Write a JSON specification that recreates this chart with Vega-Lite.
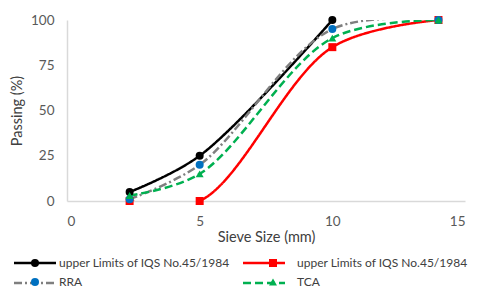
{
  "$schema": "https://vega.github.io/schema/vega-lite/v6.json",
  "width": 398,
  "height": 181,
  "autosize": {"type": "none"},
  "padding": {"left": 67, "top": 20, "right": 15, "bottom": 88},
  "background": "white",
  "config": {
    "view": {"stroke": null},
    "font": "Lato",
    "axis": {
      "domainColor": "#d9d9d9",
      "domainWidth": 1.5,
      "ticks": false,
      "tickSize": 0,
      "grid": false,
      "labelColor": "#595959",
      "labelFontSize": 13.5,
      "labelFont": "Lato",
      "labelPadding": 13,
      "titleFont": "Lato",
      "titleFontSize": 14.5,
      "titleFontWeight": "normal",
      "titleColor": "#404040"
    }
  },
  "data": {
    "values": [
      {"series": "Limit1", "x": 2.36, "y": 5},
      {"series": "Limit1", "x": 5, "y": 25},
      {"series": "Limit1", "x": 10, "y": 100},
      {"series": "Limit2", "x": 2.36, "y": 0},
      {"series": "Limit2", "x": 5, "y": 0},
      {"series": "Limit2", "x": 10, "y": 85},
      {"series": "Limit2", "x": 14, "y": 100},
      {"series": "RRA", "x": 2.36, "y": 1},
      {"series": "RRA", "x": 5, "y": 20},
      {"series": "RRA", "x": 10, "y": 95},
      {"series": "RRA", "x": 14, "y": 100},
      {"series": "TCA", "x": 2.36, "y": 3},
      {"series": "TCA", "x": 5, "y": 15},
      {"series": "TCA", "x": 10, "y": 90},
      {"series": "TCA", "x": 14, "y": 100}
    ]
  },
  "encoding": {
    "x": {
      "field": "x",
      "type": "quantitative",
      "scale": {"domain": [0, 15]},
      "axis": {"values": [0, 5, 10, 15], "title": "Sieve Size (mm)", "titlePadding": 3}
    },
    "y": {
      "field": "y",
      "type": "quantitative",
      "scale": {"domain": [0, 100]},
      "axis": {"values": [0, 25, 50, 75, 100], "title": "Passing (%)", "titlePadding": 6}
    }
  },
  "layer": [
    {
      "mark": {"type": "line", "interpolate": "catmull-rom", "strokeWidth": 2.5, "clip": true},
      "encoding": {
        "stroke": {
          "field": "series",
          "type": "nominal",
          "scale": {"range": ["#000000", "#ff0000", "#7f7f7f", "#00b050"]},
          "legend": {
            "orient": "none",
            "direction": "horizontal",
            "legendX": -54,
            "legendY": 237,
            "columns": 2,
            "columnPadding": 177,
            "rowPadding": 8,
            "title": null,
            "symbolType": "M-5.25,0H5.25",
            "symbolSize": 64,
            "symbolStrokeWidth": 2.5,
            "symbolOffset": 16,
            "labelOffset": 18,
            "labelFontSize": 12,
            "zindex": 0,
            "labelExpr": "''"
          }
        },
        "strokeDash": {
          "field": "series",
          "type": "nominal",
          "scale": {"range": [[1, 0], [1, 0], [8, 3, 2, 3], [8, 4]]}
        }
      }
    },
    {
      "mark": {"type": "point", "filled": true, "size": 64, "opacity": 1},
      "encoding": {
        "fill": {
          "field": "series",
          "type": "nominal",
          "scale": {
            "domain": ["Limit1", "Limit2", "RRA", "TCA"],
            "range": ["#000000", "#ff0000", "#0070c0", "#00b050"]
          },
          "legend": {
            "orient": "none",
            "direction": "horizontal",
            "legendX": -54,
            "legendY": 237,
            "columns": 2,
            "columnPadding": 21,
            "rowPadding": 1,
            "title": null,
            "symbolSize": 64,
            "symbolStrokeWidth": 2.5,
            "symbolStrokeColor": "transparent",
            "symbolOffset": 16,
            "labelOffset": 18,
            "labelLimit": 300,
            "labelFont": "Lato",
            "labelFontSize": 12,
            "labelColor": "#404040",
            "zindex": 1,
            "labelExpr": "indexof(datum.label, 'Limit') == 0 ? 'upper Limits of IQS No.45/1984' : datum.label"
          }
        },
        "shape": {
          "field": "series",
          "type": "nominal",
          "scale": {
            "domain": ["Limit1", "Limit2", "RRA", "TCA"],
            "range": ["circle", "square", "circle", "triangle-up"]
          }
        }
      }
    }
  ]
}
